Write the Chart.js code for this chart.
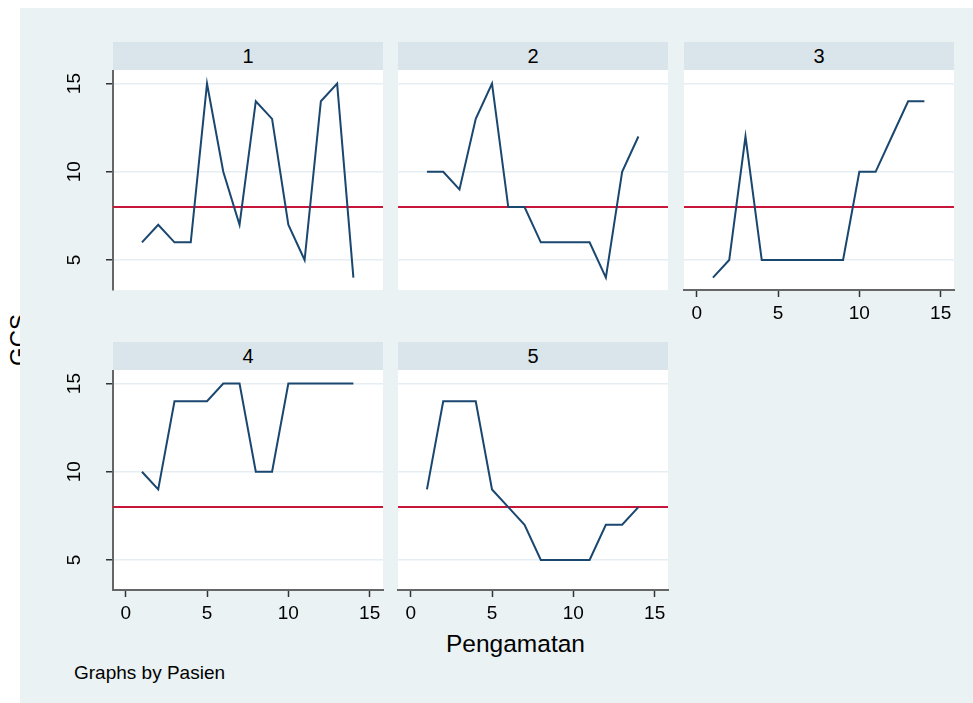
<!DOCTYPE html>
<html>
<head>
<meta charset="utf-8">
<script src="https://cdn.jsdelivr.net/npm/chart.js@4/dist/chart.umd.min.js"></script>
<style>
  html, body { margin: 0; padding: 0; background: #ffffff; }
  body { width: 973px; height: 703px; position: relative; overflow: hidden;
         font-family: "Liberation Sans", Arial, sans-serif; }
  #region { position: absolute; left: 20px; top: 8px; width: 953px; height: 695px; background: #eaf2f3; }
  .strip { position: absolute; height: 28px; background: #d9e5eb; color: #000;
           font-size: 20px; line-height: 29px; text-align: center; }
  .panel { position: absolute; }
  .txt { position: absolute; color: #000; white-space: nowrap; }
</style>
</head>
<body>
<div class="txt" id="ytitle" style="left:-7px; top:326px; font-size:24px; transform:rotate(-90deg); transform-origin:center;">GCS</div>
<div id="region"></div>
<div class="txt" style="left:446px; top:630px; font-size:24.5px;">Pengamatan</div>
<div class="txt" style="left:74px; top:662px; font-size:19px;">Graphs by Pasien</div>

<script>
// Observation number (Pengamatan) and GCS score per patient (Pasien)
const pasien = ['1', '2', '3', '4', '5'];
const pengamatan = [1, 2, 3, 4, 5, 6, 7, 8, 9, 10, 11, 12, 13, 14];
const gcsPasien1 = [6, 7, 6, 6, 15, 10, 7, 14, 13, 7, 5, 14, 15, 4];
const gcsPasien2 = [10, 10, 9, 13, 15, 8, 8, 6, 6, 6, 6, 4, 10, 12];
const gcsPasien3 = [4, 5, 12, 5, 5, 5, 5, 5, 5, 10, 10, 12, 14, 14];
const gcsPasien4 = [10, 9, 14, 14, 14, 15, 15, 10, 10, 15, 15, 15, 15, 15];
const gcsPasien5 = [9, 14, 14, 14, 9, 8, 7, 5, 5, 5, 5, 7, 7, 8];
const batasGCS = 8;               // reference line
const yTickValues = [5, 10, 15];
const xTickValues = [0, 5, 10, 15];

const seriesGCS = [gcsPasien1, gcsPasien2, gcsPasien3, gcsPasien4, gcsPasien5];

// Panel layout: plot-area position, and which axes each panel shows
const panels = [
  { left: 113, top: 70,  showY: true,  showX: false },
  { left: 398, top: 70,  showY: false, showX: false },
  { left: 684, top: 70,  showY: false, showX: true  },
  { left: 113, top: 370, showY: true,  showX: true  },
  { left: 398, top: 370, showY: false, showX: true  }
];
const PLOT_W = 270, PLOT_H = 220, AXIS_W = 60, AXIS_H = 40, PAD_R = 10;
const FONT = { family: '"Liberation Sans", Arial, sans-serif', size: 19 };
const NAVY = '#1a476f', RED = '#c8163a', GRID = '#e6eef1', AXIS = '#666666';

// white plot region behind the data
const plotBackground = {
  id: 'plotBackground',
  beforeDraw(chart) {
    const { ctx, chartArea: a } = chart;
    ctx.save();
    ctx.fillStyle = '#ffffff';
    ctx.fillRect(a.left, a.top, a.right - a.left, a.bottom - a.top);
    ctx.restore();
  }
};

// horizontal reference line at batasGCS
const refLine = {
  id: 'refLine',
  beforeDatasetsDraw(chart, args, opts) {
    const { ctx, chartArea: a, scales } = chart;
    const y = scales.y.getPixelForValue(opts.value);
    ctx.save();
    ctx.strokeStyle = RED;
    ctx.lineWidth = 2;
    ctx.beginPath();
    ctx.moveTo(a.left, y);
    ctx.lineTo(a.right, y);
    ctx.stroke();
    ctx.restore();
  }
};

panels.forEach((p, i) => {
  const strip = document.createElement('div');
  strip.className = 'strip';
  strip.style.left = p.left + 'px';
  strip.style.top = (p.top - 28) + 'px';
  strip.style.width = PLOT_W + 'px';
  strip.textContent = pasien[i];
  document.body.appendChild(strip);

  const wrap = document.createElement('div');
  wrap.className = 'panel';
  const cw = PLOT_W + AXIS_W + PAD_R, ch = PLOT_H + AXIS_H;
  wrap.style.left = (p.left - AXIS_W) + 'px';
  wrap.style.top = p.top + 'px';
  wrap.style.width = cw + 'px';
  wrap.style.height = ch + 'px';
  const canvas = document.createElement('canvas');
  wrap.appendChild(canvas);
  document.body.appendChild(wrap);

  const points = pengamatan.map((x, k) => ({ x: x, y: seriesGCS[i][k] }));

  new Chart(canvas, {
    type: 'line',
    data: {
      datasets: [{
        data: points,
        borderColor: NAVY,
        borderWidth: 2,
        pointRadius: 0,
        tension: 0,
        fill: false
      }]
    },
    plugins: [plotBackground, refLine],
    options: {
      responsive: true,
      maintainAspectRatio: false,
      animation: false,
      events: [],
      layout: { padding: { left: 0, right: PAD_R, top: 0, bottom: 0 } },
      plugins: {
        legend: { display: false },
        tooltip: { enabled: false },
        refLine: { value: batasGCS }
      },
      scales: {
        x: {
          type: 'linear',
          min: -0.78,
          max: 15.82,
          afterBuildTicks: s => { s.ticks = xTickValues.map(v => ({ value: v })); },
          afterFit: s => { s.height = AXIS_H; s.paddingLeft = 0; s.paddingRight = 0; },
          border: { display: p.showX, color: AXIS, width: 2 },
          grid: {
            color: 'rgba(0,0,0,0)',
            drawTicks: p.showX,
            tickLength: 7,
            tickColor: '#333333',
            tickWidth: 1.5
          },
          ticks: {
            display: p.showX,
            color: '#000',
            font: FONT,
            padding: 5,
            maxRotation: 0,
            minRotation: 0,
            callback: v => String(v)
          }
        },
        y: {
          type: 'linear',
          min: 3.3,
          max: 15.77,
          afterBuildTicks: s => { s.ticks = yTickValues.map(v => ({ value: v })); },
          afterFit: s => { s.width = AXIS_W; s.paddingTop = 0; s.paddingBottom = 0; },
          border: { display: p.showY, color: AXIS, width: 2 },
          grid: {
            color: GRID,
            lineWidth: 1.5,
            drawTicks: p.showY,
            tickLength: 7,
            tickColor: '#333333',
            tickWidth: 1.5
          },
          ticks: {
            display: p.showY,
            color: '#000',
            font: FONT,
            padding: 21,
            crossAlign: 'center',
            minRotation: 90,
            maxRotation: 90,
            callback: v => String(v)
          }
        }
      }
    }
  });
});
</script>
</body>
</html>
